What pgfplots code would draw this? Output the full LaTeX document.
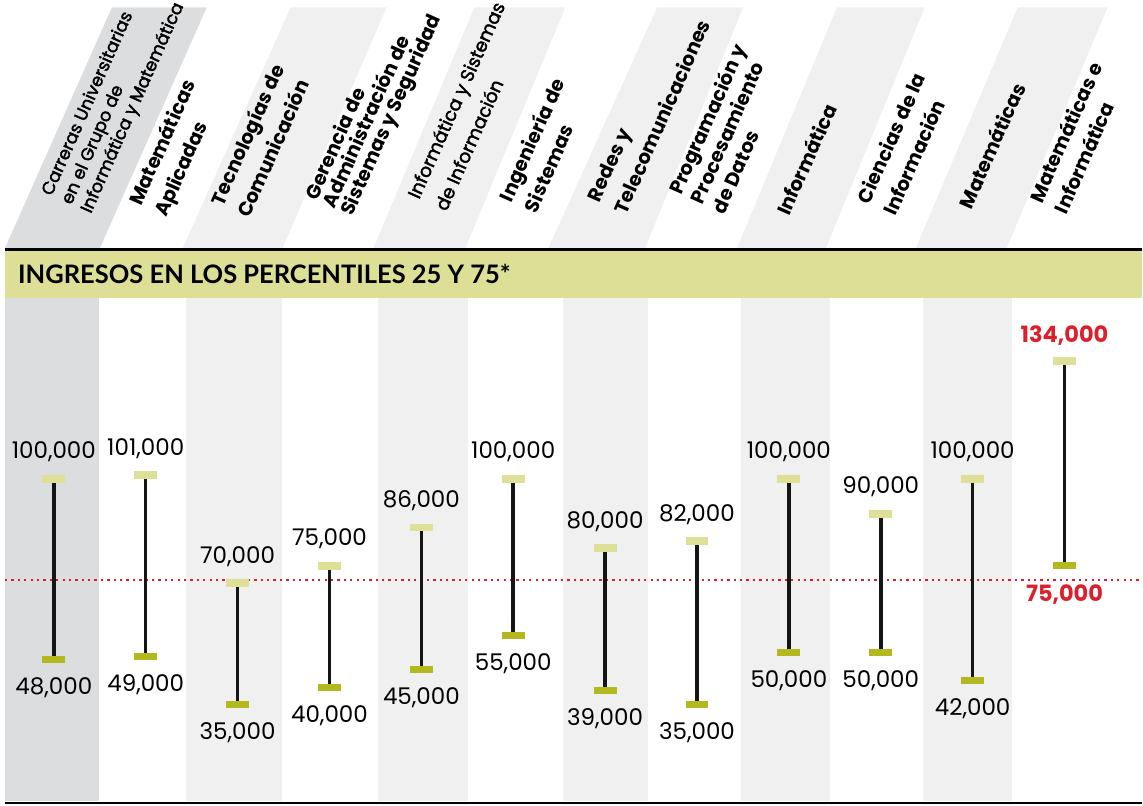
\documentclass[border=0pt]{standalone}
\usepackage{fontspec}
\usepackage{pgfplots}
\pgfplotsset{compat=1.18}
\usepackage{pgfplotstable}
\setmainfont{Poppins}
\newfontfamily\numfont{Poppins}
\newfontfamily\hfont{Poppins}
\newfontfamily\hfontl{Poppins}[FakeBold=2]
\newfontfamily\tfont{Lato}
\pgfdeclarelayer{background}
\pgfsetlayers{background,main}
\definecolor{dgray}{HTML}{DCDDDF}
\definecolor{lgray}{HTML}{F0F0F0}
\definecolor{band}{HTML}{DEDF96}
\definecolor{captop}{HTML}{DDE096}
\definecolor{capbot}{HTML}{B2B81E}
\definecolor{redl}{HTML}{DC1F2A}
\definecolor{barc}{HTML}{151515}

\pgfplotstableread{
i low high
0 48000 100000
1 49000 101000
2 35000 70000
3 40000 75000
4 45000 86000
5 55000 100000
6 39000 80000
7 35000 82000
8 50000 100000
9 50000 90000
10 42000 100000
}\datamain
\pgfplotstableread{
i low high
11 75000 134000
}\datalast

\begin{document}
\begin{tikzpicture}
\begin{axis}[
  width=1138pt, height=504pt, scale only axis,
  xmin=-0.5315, xmax=11.838, ymin=7184, ymax=152011,
  axis lines=none, clip=false,
  /pgf/number format/fixed, /pgf/number format/precision=0,
  /pgf/number format/1000 sep={,}, /pgf/number format/assume math mode=true,
]
\coordinate (P0) at (axis cs:-0.5315,152011);
% reference line
\addplot[redl, line width=2.3pt, dash pattern=on 2.3pt off 4.1pt] coordinates {(-0.5315,70977) (11.838,70977)};
% range lines
\addplot[only marks, mark=none, error bars/.cd, y dir=plus, y explicit, error mark=none,
  error bar style={line width=3.5pt, barc}]
  table[x=i, y=low, y error expr=\thisrow{high}-\thisrow{low}] {\datamain};
\addplot[only marks, mark=none, error bars/.cd, y dir=plus, y explicit, error mark=none,
  error bar style={line width=3.5pt, barc}]
  table[x=i, y=low, y error expr=\thisrow{high}-\thisrow{low}] {\datalast};
% top caps
\addplot[color=captop, only marks, mark=-, mark size=11.5pt, mark options={line width=8pt, draw=captop},
  point meta=y, nodes near coords,
  nodes near coords style={font=\numfont\fontsize{23}{23}\selectfont, text=black, anchor=base, yshift=20pt, inner sep=0pt}]
  table[x=i, y=high] {\datamain};
% bottom caps
\addplot[color=capbot, only marks, mark=-, mark size=11.5pt, mark options={line width=7pt, draw=capbot},
  point meta=y, nodes near coords,
  nodes near coords style={font=\numfont\fontsize{23}{23}\selectfont, text=black, anchor=base, yshift=-35pt, inner sep=0pt}]
  table[x=i, y=low] {\datamain};
% last column
\addplot[color=captop, only marks, mark=-, mark size=11.5pt, mark options={line width=8pt, draw=captop},
  point meta=y, nodes near coords,
  nodes near coords style={font=\numfont\bfseries\fontsize{22.5}{22.5}\selectfont, text=redl, anchor=base, yshift=18pt, inner sep=0pt}]
  table[x=i, y=high] {\datalast};
\addplot[color=capbot, only marks, mark=-, mark size=11.5pt, mark options={line width=7pt, draw=capbot},
  point meta=y, nodes near coords,
  nodes near coords style={font=\numfont\bfseries\fontsize{22.5}{22.5}\selectfont, text=redl, anchor=base, yshift=-36pt, inner sep=0pt}]
  table[x=i, y=low] {\datalast};
\end{axis}

\begin{scope}[shift={(P0)}, xshift=-5pt, yshift=296pt, x=1pt, y=-1pt]
\path (0,0) rectangle (1143,804);
\begin{pgfonlayer}{background}
  % header stripes
  \fill[dgray] (5,246) -- (100,246) -- (207,5) -- (112,5) -- cycle;
  \fill[lgray] (183,246) -- (283,246) -- (387,5) -- (291,5) -- cycle;
  \fill[lgray] (374,246) -- (466,246) -- (566,5) -- (475,5) -- cycle;
  \fill[lgray] (549,246) -- (646,246) -- (744,5) -- (658,5) -- cycle;
  \fill[lgray] (738,246) -- (827,246) -- (926,5) -- (838,5) -- cycle;
  \fill[lgray] (917,246) -- (1008,246) -- (1109,5) -- (1019,5) -- cycle;
  % lower columns
  \fill[dgray] (5,296) rectangle (99,800);
  \fill[lgray] (186,296) rectangle (282,800);
  \fill[lgray] (378,296) rectangle (469,800);
  \fill[lgray] (564,296) rectangle (649,800);
  \fill[lgray] (742,296) rectangle (831,800);
  \fill[lgray] (924,296) rectangle (1013,800);
  % band
  \fill[band] (5,249) rectangle (1143,296);
\end{pgfonlayer}
\draw[line width=3pt, black] (5,247.5) -- (1143,247.5);
\draw[line width=2.5pt, black] (5,801.5) -- (1143,801.5);
\node[anchor=base west, inner sep=0pt, font=\tfont\bfseries\fontsize{25.5}{25.5}\selectfont] at (18,281.5) {INGRESOS EN LOS PERCENTILES 25 Y 75*};
% headers
\tikzset{hd/.style={rotate=66, anchor=base west, inner sep=0pt, font=\hfont\bfseries\fontsize{19.5}{19.5}\selectfont},
         hdl/.style={rotate=66, anchor=base west, inner sep=0pt, font=\hfontl\fontsize{17.5}{17.5}\selectfont}}
\node[hdl] at (51.7,194.5) {Carreras Universitarias};
\node[hdl] at (71.4,203.3) {en el Grupo de};
\node[hdl] at (91,212) {Informática y Matemática};
\node[hd] at (141.4,204.6) {Matemáticas};
\node[hd] at (167,216) {Aplicadas};
\node[hd] at (223.5,205.2) {Tecnologías de};
\node[hd] at (250,217) {Comunicación};
\node[hd] at (317.4,199.2) {Gerencia de};
\node[hd] at (335.2,207.1) {Administración de};
\node[hd] at (353,215) {Sistemas y Seguridad};
\node[hdl, font=\hfontl\fontsize{18.5}{18.5}\selectfont] at (419.6,197.8) {Informática y Sistemas};
\node[hdl, font=\hfontl\fontsize{18.5}{18.5}\selectfont] at (447,210) {de Información};
\node[hd] at (512.3,201) {Ingeniería de};
\node[hd] at (537,212) {Sistemas};
\node[hd] at (600.5,201.2) {Redes y};
\node[hd] at (627,213) {Telecomunicaciones};
\node[hd] at (682,193.8) {Programación y};
\node[hd] at (703.5,203.4) {Procesamiento};
\node[hd] at (725,213) {de Datos};
\node[hd] at (790,215) {Informática};
\node[hd] at (870.5,203.2) {Ciencias de la};
\node[hd] at (897,215) {Información};
\node[hd] at (973,208) {Matemáticas};
\node[hd] at (1043.3,202) {Matemáticas e};
\node[hd] at (1068,213) {Informática};
\end{scope}
\end{tikzpicture}
\end{document}
